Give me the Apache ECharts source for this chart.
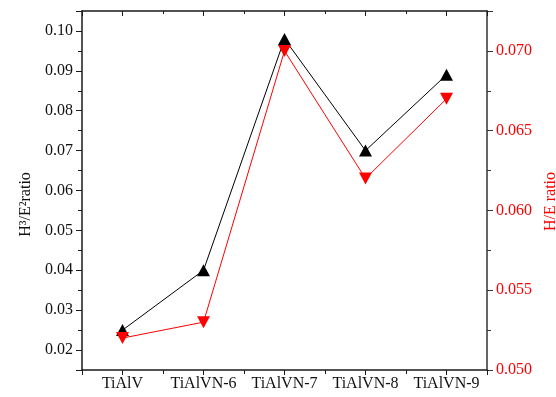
<!DOCTYPE html>
<html>
<head>
<meta charset="utf-8">
<script src="https://cdn.jsdelivr.net/npm/echarts@6/dist/echarts.min.js"></script>
<style>
  html, body { margin: 0; padding: 0; background: #fff; }
  #chart { width: 556px; height: 397px; }
</style>
</head>
<body>
<div id="chart"></div>
<script>
// Coating samples along the x axis
const categories = ['TiAlV', 'TiAlVN-6', 'TiAlVN-7', 'TiAlVN-8', 'TiAlVN-9'];
// H^3/E^2 ratio (left axis)
const h3e2 = [0.025, 0.040, 0.098, 0.070, 0.089];
// H/E ratio (right axis)
const he = [0.052, 0.053, 0.070, 0.062, 0.067];

const FONT = '"Liberation Serif", "Times New Roman", serif';
const AXIS_COLOR = '#1a1a1a';
const FS = 16;

const chart = echarts.init(document.getElementById('chart'), null, { renderer: 'canvas' });

const isCat = v => Math.abs(v - Math.round(v)) < 1e-6 && categories[Math.round(v)] !== undefined;

const xBase = {
  type: 'value',
  min: -0.5,
  max: categories.length - 0.5,
  minInterval: 1,
  maxInterval: 1,
  splitLine: { show: false },
  axisLine: { onZero: false, lineStyle: { color: AXIS_COLOR, width: 1.5 } },
  minorTick: { show: true, splitNumber: 2, length: 4, lineStyle: { color: AXIS_COLOR, width: 1 } }
};

chart.setOption({
  animation: false,
  backgroundColor: '#fff',
  grid: { left: 82, right: 69, top: 11, bottom: 27, containLabel: false, outerBoundsMode: 'none' },
  xAxis: [
    Object.assign({}, xBase, {
      position: 'bottom',
      axisTick: { show: true, inside: false, length: 5, lineStyle: { color: AXIS_COLOR, width: 1 } },
      axisLabel: {
        show: true,
        showMinLabel: false,
        showMaxLabel: false,
        margin: 6,
        color: '#111',
        fontFamily: FONT,
        fontSize: FS,
        formatter: v => (isCat(v) ? categories[Math.round(v)] : '')
      }
    }),
    Object.assign({}, xBase, {
      position: 'top',
      axisTick: { show: true, inside: true, length: 5, lineStyle: { color: AXIS_COLOR, width: 1 } },
      minorTick: { show: true, splitNumber: 2, length: 3, lineStyle: { color: AXIS_COLOR, width: 1 } },
      axisLabel: { show: false }
    })
  ],
  yAxis: [
    {
      type: 'value',
      position: 'left',
      min: 0.015,
      max: 0.105,
      minInterval: 0.01,
      maxInterval: 0.01,
      splitLine: { show: false },
      axisLine: { show: true, onZero: false, lineStyle: { color: AXIS_COLOR, width: 1.5 } },
      axisTick: { show: true, inside: false, length: 6, lineStyle: { color: AXIS_COLOR, width: 1 } },
      minorTick: { show: true, splitNumber: 2, length: 4, lineStyle: { color: AXIS_COLOR, width: 1 } },
      axisLabel: {
        showMinLabel: false,
        showMaxLabel: false,
        margin: 9,
        color: '#111',
        fontFamily: FONT,
        fontSize: FS,
        formatter: v => v.toFixed(2)
      },
      name: 'H³/E²ratio',
      nameLocation: 'middle',
      nameRotate: 90,
      nameGap: 48,
      nameTextStyle: { color: '#111', fontFamily: FONT, fontSize: FS, padding: [0, 28, 0, 0] }
    },
    {
      type: 'value',
      position: 'right',
      min: 0.05,
      max: 0.0725,
      interval: 0.005,
      splitLine: { show: false },
      axisLine: { show: true, onZero: false, lineStyle: { color: '#333', width: 1.5 } },
      axisTick: { show: true, inside: false, length: 6, lineStyle: { color: '#333', width: 1 } },
      minorTick: { show: true, splitNumber: 2, length: 4, lineStyle: { color: '#333', width: 1 } },
      axisLabel: {
        showMaxLabel: false,
        margin: 9,
        color: '#ff0000',
        fontFamily: FONT,
        fontSize: FS,
        formatter: v => (v > 0.0724 ? '' : v.toFixed(3))
      },
      name: 'H/E ratio',
      nameLocation: 'middle',
      nameRotate: 90,
      nameGap: 53,
      nameTextStyle: { color: '#ff0000', fontFamily: FONT, fontSize: FS, padding: [0, 22, 0, 0] }
    }
  ],
  series: [
    {
      name: 'H3/E2',
      type: 'line',
      xAxisIndex: 0,
      yAxisIndex: 0,
      data: h3e2.map((v, i) => [i, v]),
      symbol: 'triangle',
      symbolSize: [13, 12],
      lineStyle: { color: '#000', width: 1 },
      itemStyle: { color: '#000' },
      z: 2
    },
    {
      name: 'H/E',
      type: 'line',
      xAxisIndex: 0,
      yAxisIndex: 1,
      data: he.map((v, i) => [i, v]),
      symbol: 'triangle',
      symbolRotate: 180,
      symbolSize: [13, 12],
      lineStyle: { color: '#ff0000', width: 1 },
      itemStyle: { color: '#ff0000' },
      z: 3
    }
  ]
});
</script>
</body>
</html>
